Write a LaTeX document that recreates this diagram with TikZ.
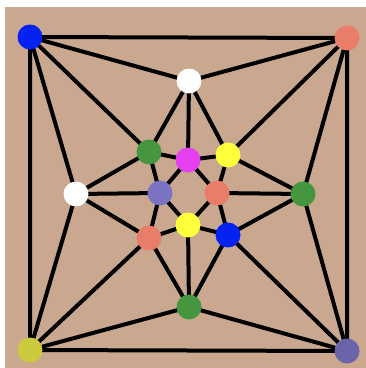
\documentclass[tikz,border=0pt]{standalone}
\usetikzlibrary{backgrounds}
\definecolor{tan}{HTML}{C9A88F}
\definecolor{cblue}{HTML}{0422F2}
\definecolor{csalmon}{HTML}{EA7C6A}
\definecolor{cgreen}{HTML}{45963F}
\definecolor{cmag}{HTML}{E540F0}
\definecolor{cyel}{HTML}{FFFF3C}
\definecolor{cpurp}{HTML}{7A74C2}
\definecolor{colive}{HTML}{CACA3C}
\definecolor{cdpurp}{HTML}{6B64AA}
\tikzset{
  vtx/.style={circle, inner sep=0pt, minimum size=18.75pt, draw=none},
  edge/.style={line width=3pt, black},
}
\begin{document}
\begin{tikzpicture}[x=0.75pt,y=-0.75pt]
\useasboundingbox (0,0) rectangle (366,368);
% vertices
\node[vtx, fill=cblue]   (tl) at (30,37) {};
\node[vtx, fill=csalmon] (tr) at (347,38) {};
\node[vtx, fill=colive]  (bl) at (30,350) {};
\node[vtx, fill=cdpurp]  (br) at (347,351) {};
\node[vtx, fill=white]   (wt) at (189,81) {};
\node[vtx, fill=white]   (wl) at (76,194) {};
\node[vtx, fill=cgreen]  (gr) at (303,194) {};
\node[vtx, fill=cgreen]  (gb) at (189,307) {};
\node[vtx, fill=cgreen]  (gu) at (149,152) {};
\node[vtx, fill=cyel]    (yu) at (228,155) {};
\node[vtx, fill=csalmon] (sl) at (149,238) {};
\node[vtx, fill=cblue]   (bd) at (228,235) {};
\node[vtx, fill=cmag]    (mg) at (188,160) {};
\node[vtx, fill=cpurp]   (pp) at (160,193) {};
\node[vtx, fill=csalmon] (sc) at (217,193) {};
\node[vtx, fill=cyel]    (yl) at (188,225) {};
\begin{scope}[on background layer]
\fill[white] (0,0) rectangle (366,368);
\fill[tan] (5,7) rectangle (366,368);
\draw[edge] (tl.center) -- (tr.center) -- (br.center) -- (bl.center) -- cycle;
\foreach \a/\b in {tl/wt, tl/gu, tl/wl, tr/wt, tr/yu, tr/gr, bl/wl, bl/sl, bl/gb, br/gb, br/bd, br/gr,
  wt/gu, wt/mg, wt/yu, wl/gu, wl/pp, wl/sl, gr/yu, gr/sc, gr/bd, gb/sl, gb/yl, gb/bd,
  gu/mg, gu/pp, yu/mg, yu/sc, sl/pp, sl/yl, bd/yl, bd/sc,
  mg/pp, mg/sc, pp/yl, sc/yl}
  \draw[edge] (\a.center) -- (\b.center);
\end{scope}
\end{tikzpicture}
\end{document}
